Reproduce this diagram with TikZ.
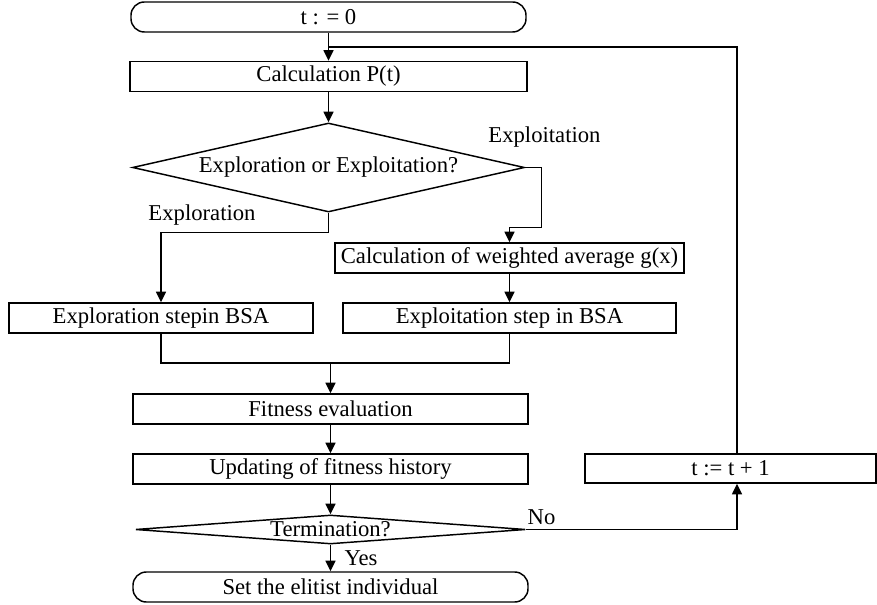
\documentclass[tikz,border=0pt]{standalone}
\usepackage{fontspec}
\setmainfont{Liberation Serif}
\usetikzlibrary{calc, arrows.meta, shapes, shapes.geometric}
\tikzset{stepbox/.style={draw, line width=1.1pt, inner sep=0pt, minimum height=22.5pt, font=\fontsize{17}{20}\selectfont}}
\tikzset{termbox/.style={stepbox, rounded corners=10pt}}
\tikzset{decbox/.style={draw, diamond, line width=1.1pt, inner sep=0pt, font=\fontsize{17}{20}\selectfont}}
\tikzset{arr/.style={draw, line width=1.1pt, -{Triangle[length=8pt, width=7.5pt]}}}
\tikzset{line/.style={draw, line width=1.1pt}}
\tikzset{lbl/.style={inner sep=0pt, font=\fontsize{17}{20}\selectfont}}
\begin{document}
\begin{tikzpicture}[x=0.75pt, y=-0.75pt]
			\useasboundingbox (0,0) rectangle (877,605);
			\node[termbox, minimum width=296.25pt] (start) at (328.5,17) {t : = 0};
			\node[stepbox, minimum width=297.75pt] (calcP) at (328.5,76.5) {Calculation P(t)};
			\node[decbox, aspect=4.4, minimum width=294pt, minimum height=66.75pt] (decide) at (328.5,167.5) {Exploration or Exploitation?};
			\node[stepbox, minimum width=261.75pt] (weighted) at (509.5,258) {Calculation of weighted average g(x)};
			\node[stepbox, minimum width=228pt] (explore) at (161,318) {Exploration stepin BSA};
			\node[stepbox, minimum width=249.75pt] (exploit) at (509.5,318) {Exploitation step in BSA};
			\node[stepbox, minimum width=296.25pt] (fitness) at (330.5,409) {Fitness evaluation};
			\node[stepbox, minimum width=296.25pt] (update) at (330.5,469) {Updating of fitness history};
			\node[decbox, aspect=13, minimum width=292.5pt, minimum height=21.75pt] (term) at (330.5,529.5) {Termination?};
			\node[termbox, minimum width=296.25pt] (final) at (330.5,587) {Set the elitist individual};
			\node[stepbox, minimum width=218.25pt, minimum height=21.75pt] (incr) at (730.5,468.5) {t := t + 1};
			\coordinate (back) at (737,47);
			\coordinate (merge) at (330.5,363);
%
			\draw[arr] (start) -- (calcP);
			\draw[arr] (calcP) -- (decide.north);
			\draw[arr] (decide.south) -- ++(0,20) -| (explore.north);
			\draw[arr] (decide.east) -- ++(16,0) -- ++(0,60) -| (weighted.north);
			\draw[arr] (weighted) -- (exploit);
			\draw[line] (explore.south) |- (merge) -| (exploit.south);
			\draw[arr] (merge) -- (fitness.north);
			\draw[arr] (fitness) -- (update);
			\draw[arr] (update) -- (term.north);
			\draw[arr] (term.south) -- (final.north);
			\draw[arr] (term.east) -| (incr.south -| back);
			\draw[line] (incr.north -| back) |- (start.south |- back);
%
			\node[lbl] (lexplore) at (202,215) {Exploration};
			\node[lbl] (lexploit) at (544.5,137) {Exploitation};
			\node[lbl] (lno) at (541.5,517) {No};
			\node[lbl] (lyes) at (361,558) {Yes};
		\end{tikzpicture}
\end{document}
